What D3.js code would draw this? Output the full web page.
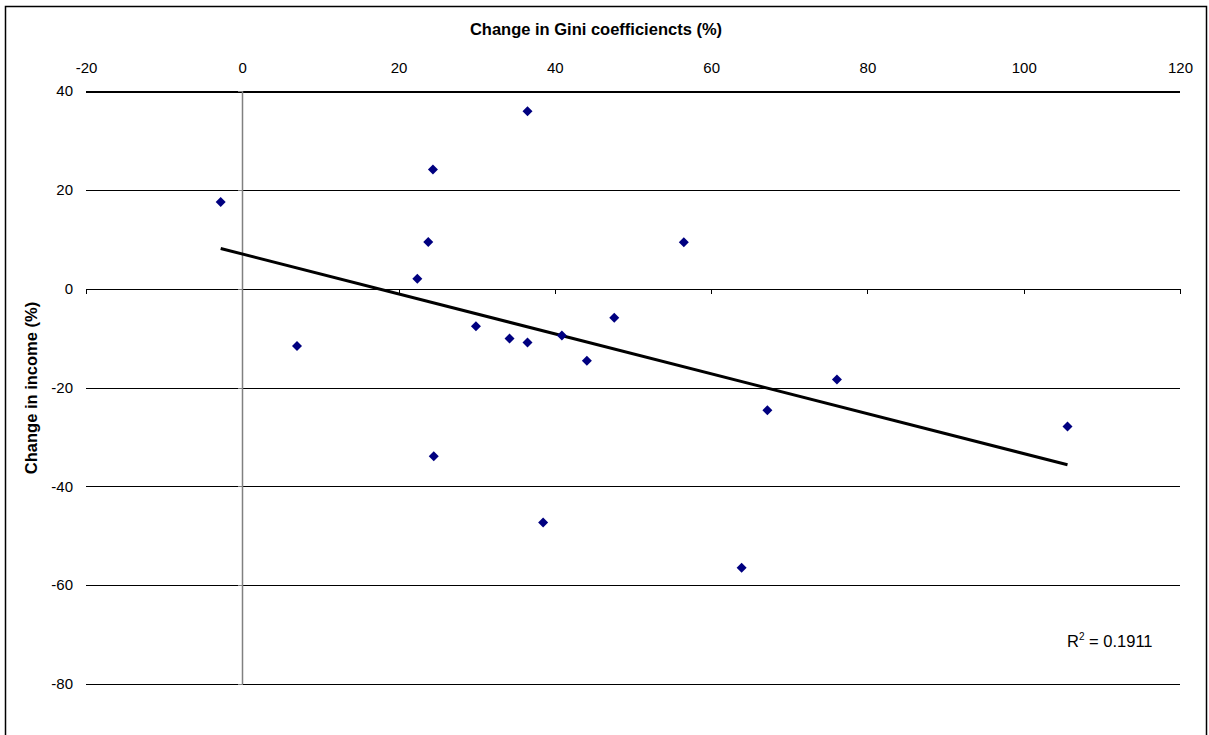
<!DOCTYPE html>
<html>
<head>
<meta charset="utf-8">
<script src="https://cdn.jsdelivr.net/npm/d3@7"></script>
<style>
  body { margin: 0; background: #fff; }
  svg text { font-family: Arial, 'Liberation Sans', sans-serif; fill: #000; }
</style>
</head>
<body>
<div id="chart"></div>
<script>
// change in Gini coefficient (%) for each country
const giniChange = [-2.76, 7.0, 22.4, 23.8, 24.4, 24.5, 29.9, 34.2, 36.5, 36.5, 38.5, 40.9, 44.1, 47.6, 56.5, 63.9, 67.2, 76.1, 105.6]
// change in income (%) for the same countries
const incomeChange = [17.55, -11.6, 2.0, 9.45, 24.1, -33.9, -7.6, -10.1, 35.9, -10.9, -47.3, -9.5, -14.6, -5.9, 9.4, -56.5, -24.6, -18.4, -27.9]

const xTicks = [-20, 0, 20, 40, 60, 80, 100, 120]
const yTicks = [40, 20, 0, -20, -40, -60, -80]
const rSquaredLabel = '0.1911'

const drawScatter = () => {

    const width = 1209
    const height = 735

    const svg = d3.select('#chart')
        .append('svg')
        .attr('width', width)
        .attr('height', height)

    // outer chart border (bottom edge runs off the page)
    svg.append('rect')
        .attr('x', 5.5)
        .attr('y', 6.5)
        .attr('width', 1201)
        .attr('height', 800)
        .attr('fill', 'none')
        .attr('stroke', '#000')
        .attr('stroke-width', 1.5)

    const xScale = d3.scaleLinear()
        .domain([-20, 120])
        .range([86, 1180])

    const yScale = d3.scaleLinear()
        .domain([-80, 40])
        .range([684, 91])

    // horizontal gridlines
    svg.append('g')
        .selectAll('line')
        .data(yTicks)
        .enter()
        .append('line')
            .attr('x1', xScale(-20))
            .attr('x2', xScale(120))
            .attr('y1', d => Math.round(yScale(d)) + 0.5)
            .attr('y2', d => Math.round(yScale(d)) + 0.5)
            .attr('stroke', '#000')
            .attr('stroke-width', d => d === 40 ? 2 : 1)
            .attr('shape-rendering', 'crispEdges')

    // x axis line sits at y = 0, with small ticks hanging down
    svg.append('g')
        .selectAll('line')
        .data(xTicks)
        .enter()
        .append('line')
            .attr('x1', d => Math.round(xScale(d)) + 0.5)
            .attr('x2', d => Math.round(xScale(d)) + 0.5)
            .attr('y1', Math.round(yScale(0)))
            .attr('y2', Math.round(yScale(0)) + 5)
            .attr('stroke', '#000')
            .attr('shape-rendering', 'crispEdges')

    // y axis line sits at x = 0 (grey), ticks pointing left
    const yAxisX = Math.round(xScale(0)) + 0.5
    svg.append('line')
        .attr('x1', yAxisX)
        .attr('x2', yAxisX)
        .attr('y1', yScale(40))
        .attr('y2', yScale(-80))
        .attr('stroke', '#808080')
        .attr('stroke-width', 1.5)

    svg.append('g')
        .selectAll('line')
        .data(yTicks)
        .enter()
        .append('line')
            .attr('x1', yAxisX - 5)
            .attr('x2', yAxisX)
            .attr('y1', d => Math.round(yScale(d)) + 0.5)
            .attr('y2', d => Math.round(yScale(d)) + 0.5)
            .attr('stroke', '#808080')
            .attr('shape-rendering', 'crispEdges')

    // tick labels on top for x (plain hyphen for negatives)
    const xAxis = svg.append('g')
        .attr('transform', `translate(0, ${yScale(40)})`)
        .call(d3.axisTop(xScale).tickValues(xTicks).tickFormat(d => String(d)).tickSize(0).tickPadding(18))
    xAxis.select('.domain').remove()
    xAxis.selectAll('text')
        .style('font-size', '15px')
        .style('font-family', "Arial, 'Liberation Sans', sans-serif")
        .attr('fill', '#000')

    // tick labels on the left for y
    const yAxis = svg.append('g')
        .attr('transform', `translate(${xScale(-20)}, 0)`)
        .call(d3.axisLeft(yScale).tickValues(yTicks).tickFormat(d => String(d)).tickSize(0).tickPadding(13))
    yAxis.select('.domain').remove()
    yAxis.selectAll('text')
        .style('font-size', '15px')
        .style('font-family', "Arial, 'Liberation Sans', sans-serif")
        .attr('fill', '#000')

    // axis titles
    svg.append('text')
        .attr('x', 596)
        .attr('y', 35)
        .style('text-anchor', 'middle')
        .style('font-size', '16.5px')
        .style('font-weight', 'bold')
        .text('Change in Gini coefficiencts (%)')

    svg.append('text')
        .attr('transform', 'translate(37, 388) rotate(-90)')
        .style('text-anchor', 'middle')
        .style('font-size', '16.5px')
        .style('font-weight', 'bold')
        .text('Change in income (%)')

    // linear trend line from least squares fit
    const points = giniChange.map((x, i) => [x, incomeChange[i]])
    const meanX = d3.mean(giniChange)
    const meanY = d3.mean(incomeChange)
    const sxy = d3.sum(points, p => (p[0] - meanX) * (p[1] - meanY))
    const sxx = d3.sum(points, p => (p[0] - meanX) ** 2)
    const slope = sxy / sxx
    const intercept = meanY - slope * meanX
    const [minX, maxX] = d3.extent(giniChange)

    svg.append('line')
        .attr('x1', xScale(minX))
        .attr('y1', yScale(intercept + slope * minX))
        .attr('x2', xScale(maxX))
        .attr('y2', yScale(intercept + slope * maxX))
        .attr('stroke', '#000')
        .attr('stroke-width', 3)

    // diamond markers
    const diamond = d3.symbol().type(d3.symbolSquare).size(50)
    svg.append('g')
        .selectAll('path')
        .data(points)
        .enter()
        .append('path')
            .attr('d', diamond)
            .attr('transform', d => `translate(${xScale(d[0])}, ${yScale(d[1])}) rotate(45)`)
            .attr('fill', '#000080')

    // R squared label
    const r2 = svg.append('text')
        .attr('x', 1067)
        .attr('y', 647)
        .style('font-size', '16.5px')
    r2.append('tspan').text('R')
    r2.append('tspan')
        .attr('dy', -7)
        .style('font-size', '10px')
        .text('2')
    r2.append('tspan')
        .attr('dy', 7)
        .text(' = ' + rSquaredLabel)
}

drawScatter()
</script>
</body>
</html>
